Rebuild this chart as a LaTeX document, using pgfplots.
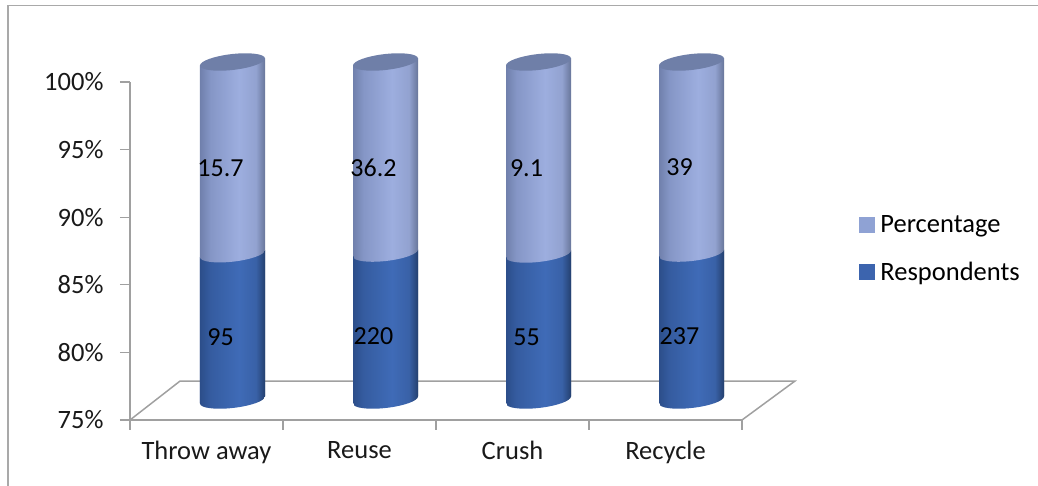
\documentclass[border=0pt]{standalone}
\usepackage{fontspec}
\setmainfont{Carlito}
\usepackage{pgfplots}
\usepackage{pgfplotstable}
\pgfplotsset{compat=1.18}

\definecolor{framegray}{HTML}{A9A9A9}
\definecolor{axisgray}{HTML}{A0A0A0}
\definecolor{legendlight}{HTML}{8FA2D4}
\definecolor{legenddark}{HTML}{3C64AE}
\definecolor{captop}{HTML}{6F7FA8}
\definecolor{la}{RGB}{112,128,172}
\definecolor{lb}{RGB}{133,150,198}
\definecolor{lc}{RGB}{157,174,223}
\definecolor{ld}{RGB}{146,162,208}
\definecolor{le}{RGB}{104,118,154}
\definecolor{da}{RGB}{44,78,138}
\definecolor{db}{RGB}{53,92,160}
\definecolor{dc}{RGB}{63,107,183}
\definecolor{dd}{RGB}{57,97,167}
\definecolor{de}{RGB}{36,64,111}

% cylinder body, dark at the rims and bright a little right of centre
\pgfdeclarehorizontalshading{cyllight}{100bp}{
  color(0bp)=(la); color(25bp)=(la); color(33bp)=(lb); color(55bp)=(lc);
  color(68bp)=(ld); color(75bp)=(le); color(100bp)=(le)}
\pgfdeclarehorizontalshading{cyldark}{100bp}{
  color(0bp)=(da); color(25bp)=(da); color(33bp)=(db); color(55bp)=(dc);
  color(68bp)=(dd); color(75bp)=(de); color(100bp)=(de)}
% same colours at the real width, for the caps
\pgfdeclarehorizontalshading{caplightfill}{24pt}{
  color(0pt)=(la); color(10.4pt)=(lb); color(39pt)=(lc); color(56pt)=(ld); color(65pt)=(le)}
\pgfdeclarehorizontalshading{capdarkfill}{24pt}{
  color(0pt)=(da); color(10.4pt)=(db); color(39pt)=(dc); color(56pt)=(dd); color(65pt)=(de)}

% end caps of the cylinders: a slanted ellipse
\newcommand{\capellipse}{\pgfpathellipse{\pgfpointorigin}{\pgfqpoint{32.5pt}{3.5pt}}{\pgfqpoint{0pt}{8pt}}}
\pgfdeclareplotmark{capdark}{%
  \begin{pgfscope}\capellipse\pgfusepath{clip}%
  \pgftext{\pgfuseshading{capdarkfill}}\end{pgfscope}}
\pgfdeclareplotmark{caplight}{%
  \begin{pgfscope}\capellipse\pgfusepath{clip}%
  \pgftext{\pgfuseshading{caplightfill}}\end{pgfscope}}
\pgfdeclareplotmark{captop}{%
  \pgfsetfillcolor{captop}\capellipse\pgfusepathqfill}

\pgfplotstableread{
x   share  label
0.5 100    15.7
1.5 100    36.2
2.5 100    9.1
3.5 100    39
}\percentage
\pgfplotstableread{
x   share  label
0.5 85.82  95
1.5 85.87  220
2.5 85.80  55
3.5 85.87  237
}\respondents

\tikzset{cylshift/.style={xshift=26pt,yshift=20pt}}
% one slanted bar: slant about its own centre
\newcommand{\cylbar}[3]{%
  \addplot[forget plot,ybar,bar shift=0pt,bar width=65pt,draw=none,shading=#3,
    xshift=26pt,yshift={20-0.1077*153*#1},yslant=0.1077] coordinates {(#1,#2)};}

\begin{document}
\begin{tikzpicture}
\useasboundingbox (-130pt,-66pt) rectangle (908pt,420pt);
\draw[framegray,line width=1.4pt] (-122pt,-66pt) -- (-122pt,414.5pt) -- (908pt,414.5pt);
\begin{axis}[
    at={(0pt,0pt)},
    anchor=south west,
    scale only axis,
    width=612pt,
    height=338pt,
    xmin=0, xmax=4,
    ymin=75, ymax=100,
    clip=false,
    axis x line*=bottom,
    axis y line*=left,
    axis line style={axisgray,line width=1.5pt,-},
    tick style={axisgray,line width=1.2pt},
    major tick length=10pt,
    tick align=outside,
    xtick={0,1,2,3,4},
    xticklabels={},
    extra x ticks={0.5,1.5,2.5,3.5},
    extra x tick labels={Throw away,Reuse,Crush,Recycle},
    extra x tick style={major tick length=0pt,tick label style={yshift=-18pt}},
    ytick={75,80,85,90,95,100},
    yticklabels={75\%,80\%,85\%,90\%,95\%,100\%},
    y tick label style={xshift=-13pt},
    tick label style={font=\fontsize{26.5}{30}\selectfont,text=black!90},
    legend style={at={(1.191,0.612)},anchor=north west,draw=none,fill=none,
      inner sep=0pt,font=\fontsize{26.5}{30}\selectfont,row sep=24pt},
    legend cell align=left,
    legend image code/.code={\fill[#1] (0pt,-7.5pt) rectangle (15pt,7.5pt);\path (19pt,0pt);},
]
% floor of the 3D box
\addplot[forget plot,axisgray,line width=1.5pt] coordinates {(0,75) (0.327,77.88) (4.346,77.88) (4,75)};

\addplot[forget plot,only marks,mark=capdark,cylshift] table[x=x,y=ybase] {
x ybase
0.5 75
1.5 75
2.5 75
3.5 75
};
\cylbar{0.5}{100}{cyllight}
\cylbar{1.5}{100}{cyllight}
\cylbar{2.5}{100}{cyllight}
\cylbar{3.5}{100}{cyllight}
\cylbar{0.5}{85.82}{cyldark}
\cylbar{1.5}{85.87}{cyldark}
\cylbar{2.5}{85.80}{cyldark}
\cylbar{3.5}{85.87}{cyldark}
\addplot[forget plot,only marks,mark=caplight,cylshift] table[x=x,y=share] {\respondents};
\addplot[forget plot,only marks,mark=captop,cylshift] table[x=x,y=share] {\percentage};

% value labels, at the middle of each segment
\addplot[forget plot,draw=none,mark=none,point meta=explicit symbolic,
  nodes near coords,
  every node near coord/.style={anchor=center,xshift=14pt,yshift=10pt,text=black,font=\fontsize{26}{30}\selectfont}]
  table[x=x,y=mid,meta=label] {
x   mid    label
0.5 92.91  15.7
1.5 92.93  36.2
2.5 92.90  9.1
3.5 92.93  39
};
\addplot[forget plot,draw=none,mark=none,point meta=explicit symbolic,
  nodes near coords,
  every node near coord/.style={anchor=center,xshift=14pt,yshift=10pt,text=black,font=\fontsize{26}{30}\selectfont}]
  table[x=x,y=mid,meta=label] {
x   mid    label
0.5 80.41  95
1.5 80.43  220
2.5 80.40  55
3.5 80.43  237
};
\addlegendimage{legendlight}
\addlegendentry{Percentage}
\addlegendimage{legenddark}
\addlegendentry{Respondents}
\end{axis}
\end{tikzpicture}
\end{document}
